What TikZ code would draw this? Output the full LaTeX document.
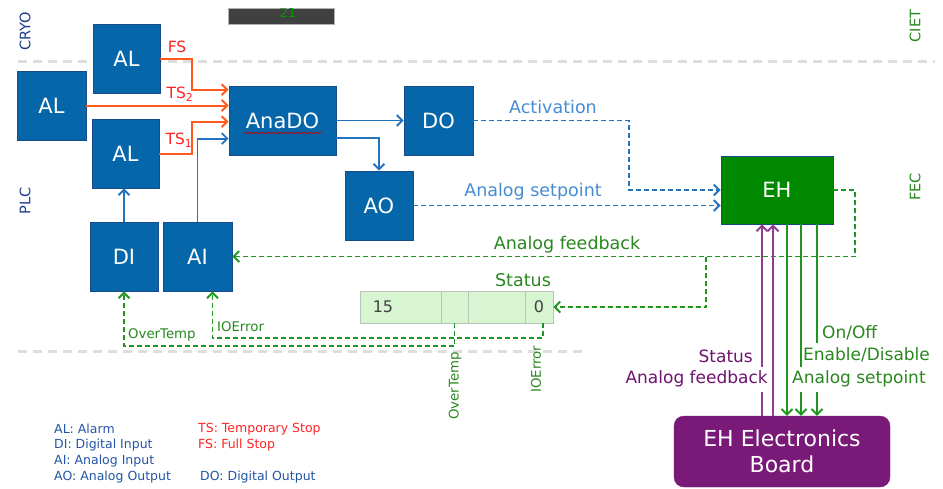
\documentclass[tikz,border=0pt]{standalone}
\usepackage{fontspec}
\setmainfont{DejaVu Sans}
\usetikzlibrary{arrows.meta,calc,decorations.pathmorphing}
\definecolor{bfill}{RGB}{5,102,170}
\definecolor{bbord}{RGB}{25,75,140}
\definecolor{ehfill}{RGB}{0,136,0}
\definecolor{brdfill}{RGB}{122,26,120}
\definecolor{orangeln}{RGB}{255,90,30}
\definecolor{redtxt}{RGB}{255,35,35}
\definecolor{blueln}{RGB}{35,115,190}
\definecolor{bluetxt}{RGB}{70,140,210}
\definecolor{greenln}{RGB}{30,150,30}
\definecolor{greentxt}{RGB}{40,135,30}
\definecolor{purpln}{RGB}{145,60,145}
\definecolor{purptxt}{RGB}{110,20,110}
\definecolor{navy}{RGB}{30,60,140}
\definecolor{legblue}{RGB}{35,85,165}
\definecolor{sepgray}{RGB}{222,222,222}
\definecolor{regfill}{RGB}{215,245,208}
\definecolor{regbord}{RGB}{185,195,185}
\definecolor{bardark}{RGB}{64,64,64}
\tikzset{
  x=1pt, y=-1pt,
  >={Straight Barb[length=5.5pt,width=11pt]},
  blk/.style={draw=bbord, fill=bfill, text=white, line width=0.8pt, inner sep=0pt,
    font=\fontsize{21}{24}\selectfont},
  oarr/.style={draw=orangeln, line width=2pt, ->},
  barr/.style={draw=blueln, line width=1.9pt, ->},
  bdash/.style={draw=blueln, line width=1.9pt, ->, dash pattern=on 5pt off 3pt},
  gdash/.style={draw=greenln, line width=1.9pt, dash pattern=on 5pt off 3pt},
  gln/.style={draw=greenln, line width=1.9pt},
  pln/.style={draw=purpln, line width=1.9pt},
  elab/.style={font=\fontsize{17.5}{20}\selectfont, inner sep=1pt},
  rlab/.style={font=\fontsize{15.5}{18}\selectfont, text=redtxt, inner sep=1pt},
  slab/.style={font=\fontsize{13.3}{15}\selectfont, text=greentxt, inner sep=1pt},
  vlab/.style={font=\fontsize{17}{20}\selectfont, fill=white, inner xsep=1pt, inner ysep=0pt, minimum height=25pt},
  side/.style={font=\fontsize{14.5}{17}\selectfont, rotate=90, inner sep=0pt},
  leg/.style={font=\fontsize{12.5}{15}\selectfont, anchor=west, inner sep=0pt},
  cell/.style={draw=regbord, fill=regfill, line width=0.8pt, minimum height=32pt, inner sep=0pt,
    font=\fontsize{16}{18}\selectfont, text=black!75},
  sep/.style={draw=sepgray, line width=3pt, dash pattern=on 9pt off 6pt}
}
\begin{document}
\begin{tikzpicture}
\useasboundingbox (0,0) rectangle (943,488);

% separators
\coordinate (s1a) at (18,61); \coordinate (s1b) at (935,61);
\coordinate (s2a) at (18,351); \coordinate (s2b) at (585,351);
\draw[sep] (s1a) -- (s1b);
\draw[sep] (s2a) -- (s2b);

% dark bar with clipped number
\node[draw=black!30, fill=bardark, minimum width=106pt, minimum height=16pt, inner sep=0pt] (bar) at (281,16) {};
\begin{scope}
  \clip (228,8) rectangle (334,24);
  \node[text=green!60!black, font=\fontsize{13}{15}\selectfont, inner sep=0pt] (num) at (288,12.5) {21};
\end{scope}

% side labels
\node[side, text=navy] (cryo) at (25,31) {CRYO};
\node[side, text=navy] (plc) at (25,201) {PLC};
\node[side, text=greentxt] (ciet) at (915,26) {CIET};
\node[side, text=greentxt] (fec) at (915,187) {FEC};

% blocks
\node[blk, minimum width=67pt, minimum height=69pt] (al1) at (126.5,58.5) {AL};
\node[blk, minimum width=69pt, minimum height=69pt] (al2) at (51.5,105.5) {AL};
\node[blk, minimum width=67pt, minimum height=69pt] (al3) at (125.5,153.5) {AL};
\node[blk, minimum width=107pt, minimum height=69pt] (anado) at (282.5,120.5) {AnaDO};
\node[blk, minimum width=69pt, minimum height=69pt] (dout) at (438.5,120.5) {DO};
\node[blk, minimum width=68pt, minimum height=69pt] (ao) at (379,205.5) {AO};
\node[blk, minimum width=68pt, minimum height=69pt] (di) at (124,256.5) {DI};
\node[blk, minimum width=69pt, minimum height=69pt] (ai) at (197.5,256.5) {AI};
\node[blk, fill=ehfill, minimum width=112pt, minimum height=68pt] (eh) at (777,190) {EH};
\node[draw=brdfill, fill=brdfill, rounded corners=10pt, text=white, align=center,
  minimum width=216pt, minimum height=71pt, inner sep=0pt,
  font=\fontsize{22}{26}\selectfont] (board) at (782,451.5) {EH Electronics\\Board};

% spell-check squiggle under AnaDO
\coordinate (sqa) at (244,133); \coordinate (sqb) at (322,133);
\draw[red!80!black, line width=0.6pt, decorate,
  decoration={snake, amplitude=0.8pt, segment length=3pt}] (sqa) -- (sqb);

% status register
\node[cell, minimum width=81pt] (c1) at (400.5,307) {};
\node[cell, minimum width=27pt] (c2) at (454.5,307) {};
\node[cell, minimum width=57pt] (c3) at (496.5,307) {};
\node[cell, minimum width=28pt] (c4) at (539,307) {0};
\node[font=\fontsize{16}{18}\selectfont, text=black!75, inner sep=0pt] (t15) at (383,307) {15};
\node[elab, text=greentxt] (lstat) at (523,280) {Status};

% orange connectors
\draw[oarr] (al1.east) -- ++(32,0) |- ($(anado.north west)+(0,4)$);
\draw[oarr] (al2.east) -- (al2.east -| anado.west);
\draw[oarr] (al3.east) -- ++(33,0) |- ($(anado.north west)+(0,36)$);
\node[rlab] (lfs) at (177,47) {FS};
\node[rlab] (lts2) at (180,94) {TS\textsubscript{2}};
\node[rlab] (lts1) at (179,140) {TS\textsubscript{1}};

% blue solid connectors
\draw[barr] (ai.north) |- ($(anado.north west)+(0,53)$);
\draw[barr] (di.north) -- (di.north |- al3.south);
\draw[barr] (anado.east) -- (dout.west);
\draw[barr] ($(anado.north east)+(0,52)$) -| (ao.north);

% blue dashed connectors
\draw[bdash] (dout.east) -- ++(156,0) |- (eh.west);
\draw[bdash] (ao.east) -- (ao.east -| eh.west);
\node[elab, text=bluetxt] (lact) at (553,107) {Activation};
\node[elab, text=bluetxt] (lasp1) at (533,192) {Analog setpoint};

% green dashed connectors
\coordinate (br) at (706,256.5);
\draw[gdash, ->] (eh.east) -- ++(22,0) |- (ai.east);
\draw[gdash, ->] (br) |- (c4.east);
\draw[gdash, ->] ($(c4.south)+(4,0)$) -- ++(0,15) -| ($(ai.south)+(15,0)$);
\draw[gdash, ->] (c2.south) -- ++(0,23) -| (di.south);
\node[elab, text=greentxt] (lafb1) at (567,245) {Analog feedback};
\node[slab, anchor=west] (lot) at (127,335) {OverTemp};
\node[slab, anchor=west] (lioe) at (216,327) {IOError};
\node[slab, rotate=90] (lot2) at (455,386) {OverTemp};
\node[slab, rotate=90] (lioe2) at (536,369) {IOError};

% vertical lines EH <-> board
\draw[pln, ->] (board.north -| 762,0) -- (eh.south -| 762,0);
\draw[pln, ->] (board.north -| 773,0) -- (eh.south -| 773,0);
\draw[gln, ->] (eh.south -| 787,0) -- (board.north -| 787,0);
\draw[gln, ->] (eh.south -| 801,0) -- (board.north -| 801,0);
\draw[gln, ->] (eh.south -| 817,0) -- (board.north -| 817,0);
\node[vlab, text=purptxt, anchor=east] (pstat) at (754,356) {Status};
\node[vlab, text=purptxt, anchor=east] (pafb) at (769,379) {Analog feedback};
\node[vlab, text=greentxt, anchor=west] (gon) at (821,333) {On/Off};
\node[vlab, text=greentxt, anchor=west] (gen) at (802,355) {Enable/Disable};
\node[vlab, text=greentxt, anchor=west] (gasp) at (791,379) {Analog setpoint};

% legend
\node[leg, text=legblue] (lg1) at (54,429) {AL: Alarm};
\node[leg, text=legblue] (lg2) at (54,445) {DI: Digital Input};
\node[leg, text=legblue] (lg3) at (54,461) {AI: Analog Input};
\node[leg, text=legblue] (lg4) at (54,477) {AO: Analog Output};
\node[leg, text=redtxt] (lg5) at (198,429) {TS: Temporary Stop};
\node[leg, text=redtxt] (lg6) at (198,445) {FS: Full Stop};
\node[leg, text=legblue] (lg7) at (200,477) {DO: Digital Output};
\end{tikzpicture}
\end{document}
